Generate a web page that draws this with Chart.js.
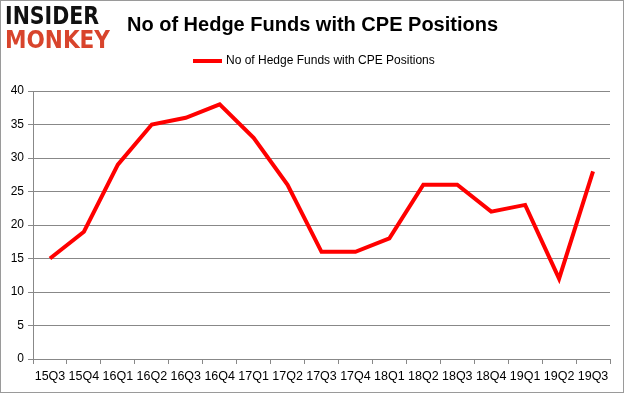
<!DOCTYPE html>
<html><head><meta charset="utf-8">
<script src="https://cdn.jsdelivr.net/npm/chart.js@4"></script>
<style>html,body{margin:0;padding:0;background:#fff}#wrap{width:625px;height:395px;position:relative}</style>
</head><body><div id="wrap"><canvas id="c" width="625" height="395"></canvas></div>
<script>
const categories = ["15Q3","15Q4","16Q1","16Q2","16Q3","16Q4","17Q1","17Q2","17Q3","17Q4","18Q1","18Q2","18Q3","18Q4","19Q1","19Q2","19Q3"];
const hedgeFunds = [15,19,29,35,36,38,33,26,16,16,18,26,26,22,23,12,28];
const seriesName = "No of Hedge Funds with CPE Positions";
const titleText = "No of Hedge Funds with CPE Positions";
const yTicks = [0,5,10,15,20,25,30,35,40];

const FONT = "'Liberation Sans', Arial, sans-serif";

const deco = {
  id: 'deco',
  beforeDraw(chart) {
    const ctx = chart.ctx;
    ctx.save();
    ctx.fillStyle = '#fff';
    ctx.fillRect(0,0,chart.width,chart.height);
    ctx.restore();
  },
  afterDraw(chart) {
    const ctx = chart.ctx;
    ctx.save();
    ctx.strokeStyle = '#9a9a9a';
    ctx.lineWidth = 1;
    ctx.strokeRect(0.5, 0.5, 623, 392);
    function fitText(txt, x, yTop, w, h, color) {
      ctx.font = "bold 40px 'DejaVu Sans'";
      const m = ctx.measureText(txt);
      ctx.save();
      ctx.translate(x, yTop);
      ctx.scale(w / m.width, h / 29);
      ctx.fillStyle = color;
      ctx.textBaseline = 'alphabetic';
      ctx.fillText(txt, 0, 29);
      ctx.restore();
    }
    fitText('INSIDER', 5, 6, 94, 18, '#111');
    fitText('MONKEY', 5, 30, 105, 18, '#d8442c');
    ctx.fillStyle = '#000';
    ctx.font = "bold 20px " + FONT;
    ctx.textAlign = 'center';
    ctx.textBaseline = 'middle';
    ctx.fillText(titleText, 312.5, 25);
    ctx.strokeStyle = '#ff0000';
    ctx.lineWidth = 4;
    ctx.beginPath();
    ctx.moveTo(193, 61); ctx.lineTo(222, 61);
    ctx.stroke();
    ctx.fillStyle = '#000';
    ctx.font = "12px " + FONT;
    ctx.textAlign = 'left';
    ctx.fillText(seriesName, 226, 61);
    ctx.restore();
  }
};

new Chart(document.getElementById('c'), {
  type: 'line',
  data: {
    labels: categories,
    datasets: [{
      label: seriesName,
      data: hedgeFunds,
      borderColor: '#ff0000',
      backgroundColor: '#ff0000',
      borderWidth: 4,
      pointRadius: 0,
      tension: 0,
      borderJoinStyle: 'miter'
    }]
  },
  options: {
    responsive: false,
    animation: false,
    layout: { padding: { top: 91, right: 15, bottom: 2, left: 0 } },
    plugins: { legend: { display: false }, title: { display: false }, tooltip: { enabled: false } },
    scales: {
      x: {
        offset: true,
        grid: { display: true, drawOnChartArea: false, drawTicks: true, tickLength: 5, color: '#888', offset: true },
        border: { display: true, color: '#888' },
        ticks: { color: '#000', font: { family: FONT, size: 12.5 }, maxRotation: 0, autoSkip: false, padding: 5 },
        afterFit(s) { s.height = 34; }
      },
      y: {
        min: 0, max: 40,
        afterBuildTicks(s) { s.ticks = yTicks.map(v => ({ value: v })); },
        grid: { color: '#888', tickLength: 5, drawTicks: true },
        border: { display: true, color: '#888' },
        ticks: { color: '#000', font: { family: FONT, size: 12 }, padding: 4 },
        afterFit(s) { s.width = 33; }
      }
    }
  },
  plugins: [deco]
});
</script></body></html>
